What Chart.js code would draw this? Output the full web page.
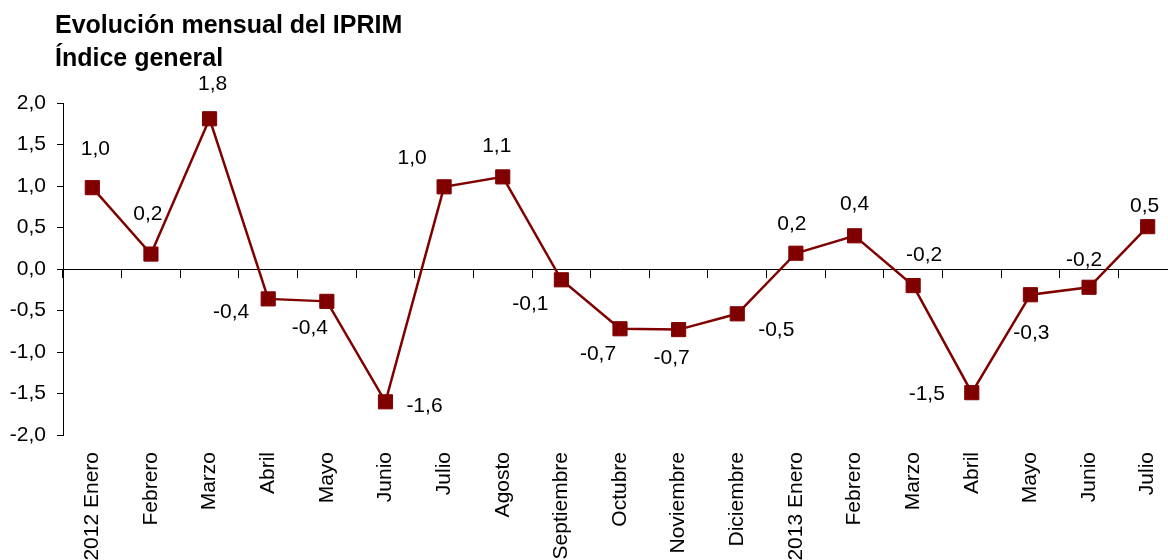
<!DOCTYPE html>
<html lang="es">
<head>
<meta charset="utf-8">
<title>Evolución mensual del IPRIM</title>
<script src="https://cdn.jsdelivr.net/npm/chart.js@4.4.1/dist/chart.umd.min.js"></script>
<style>
  html, body { margin: 0; padding: 0; background: #fff; overflow: hidden; }
  #chart { position: absolute; left: 0; top: 0; }
</style>
</head>
<body>
<canvas id="chart" width="1178" height="620"></canvas>
<script>
// Meses (eje X)
const months = [
  '2012 Enero', 'Febrero', 'Marzo', 'Abril', 'Mayo', 'Junio', 'Julio', 'Agosto',
  'Septiembre', 'Octubre', 'Noviembre', 'Diciembre',
  '2013 Enero', 'Febrero', 'Marzo', 'Abril', 'Mayo', 'Junio', 'Julio'
];

// Variación mensual del índice general (%)
const monthlyChange = [
  0.98, 0.18, 1.81, -0.36, -0.39, -1.60, 0.99, 1.11,
  -0.13, -0.72, -0.73, -0.54,
  0.19, 0.40, -0.20, -1.49, -0.31, -0.22, 0.51
];

// Eje Y
const yTicks = [-2.0, -1.5, -1.0, -0.5, 0.0, 0.5, 1.0, 1.5, 2.0];

const titleLines = ['Evolución mensual del IPRIM', 'Índice general'];

// where each value label sits relative to its point (px)
const labelOffsets = [
  [3, -38], [-3, -40], [3, -35], [-37, 13], [-17, 27], [39, 4], [-32, -29], [-6, -31],
  [-31, 24], [-22, 25], [-7, 29], [39, 16],
  [-4, -29], [0, -32], [11, -30], [-45, 2], [1, 38], [-5, -27], [-3, -20]
];

const FONT = '"Liberation Sans", Arial, sans-serif';
const RED = '#800000';

const fmt = v => v.toFixed(1).replace('.', ',');

const titlePlugin = {
  id: 'titleText',
  afterDraw(chart) {
    const ctx = chart.ctx;
    ctx.save();
    ctx.fillStyle = '#000';
    ctx.font = 'bold 25px ' + FONT;
    ctx.textAlign = 'left';
    ctx.textBaseline = 'alphabetic';
    ctx.fillText(titleLines[0], 55, 33);
    ctx.fillText(titleLines[1], 55, 66);
    ctx.restore();
  }
};

const valueLabels = {
  id: 'valueLabels',
  afterDatasetsDraw(chart) {
    const ctx = chart.ctx;
    const meta = chart.getDatasetMeta(0);
    ctx.save();
    ctx.fillStyle = '#000';
    ctx.font = '21px ' + FONT;
    ctx.textAlign = 'center';
    ctx.textBaseline = 'middle';
    meta.data.forEach((pt, i) => {
      const off = labelOffsets[i];
      ctx.fillText(fmt(monthlyChange[i]), pt.x + off[0], pt.y + off[1]);
    });
    ctx.restore();
  }
};

new Chart(document.getElementById('chart'), {
  type: 'line',
  data: {
    labels: months,
    datasets: [{
      data: monthlyChange,
      borderColor: RED,
      backgroundColor: RED,
      borderWidth: 2.5,
      tension: 0,
      pointStyle: 'rect',
      pointRadius: 10,
      pointHoverRadius: 10,
      pointBackgroundColor: RED,
      pointBorderColor: RED,
      pointBorderWidth: 1
    }]
  },
  options: {
    responsive: false,
    animation: false,
    layout: {
      autoPadding: false,  // point size was eating ~10px on the right
      padding: { top: 103, left: 0, right: 1, bottom: 0 }
    },
    plugins: {
      legend: { display: false },
      title: { display: false },
      tooltip: { enabled: false }
    },
    scales: {
      x: {
        type: 'category',
        offset: true,
        position: 'bottom',
        // invisible tick length gives the gap above the rotated labels
        grid: { display: false, drawTicks: true, tickLength: 17 },
        border: { display: false },
        ticks: {
          autoSkip: false,
          minRotation: 90,
          maxRotation: 90,
          padding: 0,
          color: '#000',
          font: { family: FONT, size: 21 }
        },
        afterFit(scale) {
          scale.height = 185;
          scale.paddingLeft = 0;
          scale.paddingRight = 0;
        }
      },
      x2: {
        type: 'category',
        labels: months,
        offset: true,
        position: { y: 0 },
        grid: {
          offset: true,
          drawOnChartArea: false,
          drawTicks: true,
          tickLength: 8,
          color: '#000'
        },
        border: { display: true, color: '#000', width: 1 },
        ticks: { display: false, padding: 0 }
      },
      y: {
        min: -2,
        max: 2,
        afterBuildTicks(scale) { scale.ticks = yTicks.map(v => ({ value: v })); },
        grid: {
          drawOnChartArea: false,
          drawTicks: true,
          tickLength: 6,
          color: '#000'
        },
        border: { display: true, color: '#000', width: 1 },
        ticks: {
          padding: 11,
          color: '#000',
          font: { family: FONT, size: 21 },
          callback: v => fmt(v)
        },
        afterFit(scale) { scale.width = 63; }
      }
    }
  },
  plugins: [titlePlugin, valueLabels]
});
</script>
</body>
</html>
